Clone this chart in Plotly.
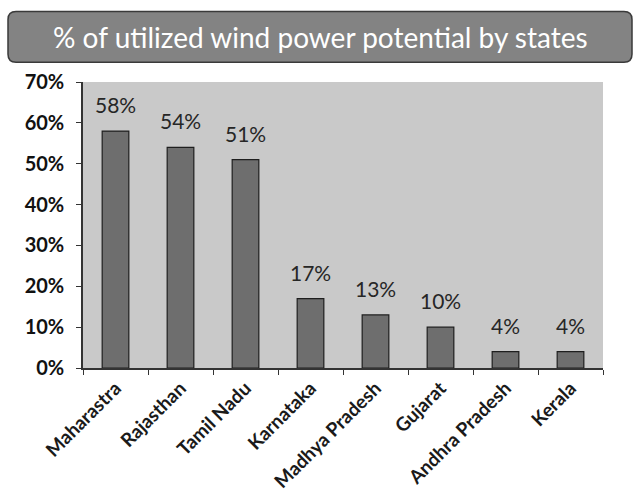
import plotly.graph_objects as go

states = ["Maharastra", "Rajasthan", "Tamil Nadu", "Karnataka", "Madhya Pradesh",
          "Gujarat", "Andhra Pradesh", "Kerala"]
utilized_pct = [58, 54, 51, 17, 13, 10, 4, 4]
y_ticks = [0, 10, 20, 30, 40, 50, 60, 70]
y_tick_labels = [f"{v}%" for v in y_ticks]

W, H = 638, 504
L, R, T, B = 83, 35, 82, 134
pw, ph = W - L - R, H - T - B
FONT = "Lato, Open Sans, sans-serif"


def px_to_paper(x, y):
    return (x - L) / pw, (H - B - y) / ph


fig = go.Figure()
fig.add_trace(go.Bar(
    x=states,
    y=utilized_pct,
    width=0.41,
    marker=dict(color="#6e6e6e", line=dict(color="#1e1e1e", width=1.2)),
    cliponaxis=False,
))

# value labels sitting a little above each bar
for s, v in zip(states, utilized_pct):
    fig.add_annotation(x=s, y=v, text=f"{v}%", showarrow=False,
                       xanchor="center", yanchor="bottom", yshift=12,
                       font=dict(family=FONT, size=21, color="#262626"))

# rounded title banner
x0, y0 = px_to_paper(8, 62)
x1, y1 = px_to_paper(632, 11)
rx, ry = 8 / pw, 8 / ph
path = (f"M {x0+rx},{y0} L {x1-rx},{y0} Q {x1},{y0} {x1},{y0+ry} "
        f"L {x1},{y1-ry} Q {x1},{y1} {x1-rx},{y1} L {x0+rx},{y1} "
        f"Q {x0},{y1} {x0},{y1-ry} L {x0},{y0+ry} Q {x0},{y0} {x0+rx},{y0} Z")
fig.add_shape(type="path", path=path, xref="paper", yref="paper",
              fillcolor="#838383", line=dict(color="#3a3a3a", width=1.5), layer="below")
tx, ty = px_to_paper(320, 37)
fig.add_annotation(text="% of utilized wind power potential by states", x=tx, y=ty,
                   xref="paper", yref="paper", xanchor="center", yanchor="middle",
                   showarrow=False,
                   font=dict(family=FONT, size=28, color="white"))

fig.update_layout(
    width=W, height=H,
    margin=dict(l=L, r=R, t=T, b=B),
    paper_bgcolor="white",
    plot_bgcolor="#c9c9c9",
    showlegend=False,
    bargap=0.59,
)
fig.update_xaxes(
    showline=True, linecolor="#333333", linewidth=1.5,
    mirror=False, ticks="outside", ticklen=5, tickcolor="#333333",
    tickson="boundaries", tickangle=-45,
    tickfont=dict(family=FONT, size=19, color="#1a1a1a", weight="bold"),
    showgrid=False,
)
fig.update_yaxes(
    range=[0, 70], tickvals=y_ticks, ticktext=y_tick_labels,
    showline=True, linecolor="#333333", linewidth=1.5,
    ticks="outside", ticklen=5, tickcolor="#333333", ticklabelstandoff=8,
    tickfont=dict(family=FONT, size=20, color="#111111", weight="bold"),
    showgrid=False, zeroline=False,
)

fig.write_html("out.html")
